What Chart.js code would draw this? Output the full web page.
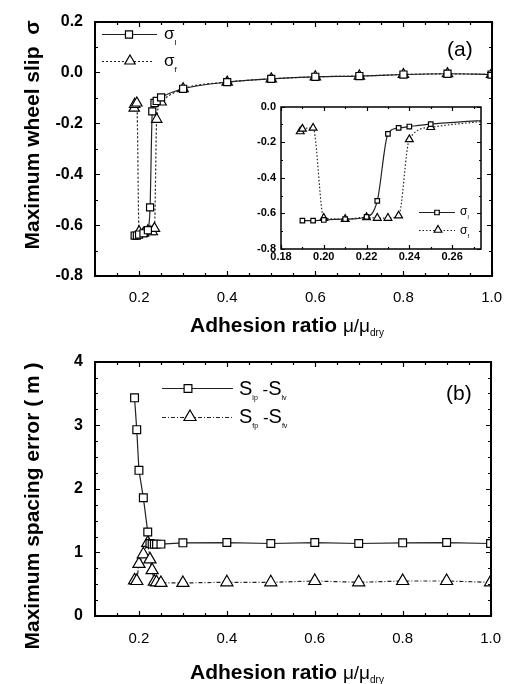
<!DOCTYPE html>
<html><head><meta charset="utf-8">
<script src="https://cdn.jsdelivr.net/npm/chart.js@4.4.1/dist/chart.umd.min.js"></script>
<style>
html,body{margin:0;padding:0;background:#fff;overflow:hidden;}
#wrap{position:relative;width:515px;height:684px;overflow:hidden;background:#fff;}
canvas{position:absolute;display:block;}
</style></head><body>
<div id="wrap">
<canvas id="ca" width="515" height="340" style="left:0;top:0"></canvas>
<canvas id="cb" width="515" height="344" style="left:0;top:340px"></canvas>
<canvas id="ci" width="250" height="170" style="left:240px;top:95px"></canvas>
</div>
<script>
const FONT = '"Liberation Sans", Arial, Helvetica, sans-serif';

// ---- data ----
const adhesionSlipL = [0.19, 0.195, 0.20, 0.21, 0.22, 0.225, 0.23, 0.235, 0.24, 0.25, 0.3, 0.4, 0.5, 0.6, 0.7, 0.8, 0.9, 1.0];
const slipL = [-0.641, -0.641, -0.637, -0.632, -0.62, -0.53, -0.153, -0.12, -0.112, -0.098, -0.064, -0.038, -0.025, -0.017, -0.014, -0.008, -0.005, -0.008];
const adhesionSlipF = [0.189, 0.19, 0.195, 0.20, 0.21, 0.22, 0.225, 0.23, 0.235, 0.24, 0.25, 0.3, 0.4, 0.5, 0.6, 0.7, 0.8, 0.9, 1.0];
const slipF = [-0.14, -0.125, -0.12, -0.626, -0.632, -0.622, -0.626, -0.626, -0.613, -0.184, -0.116, -0.064, -0.038, -0.025, -0.017, -0.014, -0.008, -0.005, -0.008];

const adhesionSpL = [0.19, 0.195, 0.20, 0.21, 0.22, 0.225, 0.23, 0.235, 0.24, 0.25, 0.3, 0.4, 0.5, 0.6, 0.7, 0.8, 0.9, 1.0];
const spacingL = [3.43, 2.93, 2.29, 1.86, 1.32, 1.14, 1.13, 1.13, 1.13, 1.13, 1.15, 1.155, 1.14, 1.155, 1.14, 1.15, 1.155, 1.14];
const adhesionSpF = [0.19, 0.195, 0.20, 0.21, 0.22, 0.225, 0.23, 0.235, 0.24, 0.25, 0.3, 0.4, 0.5, 0.6, 0.7, 0.8, 0.9, 1.0];
const spacingF = [0.56, 0.55, 0.82, 0.97, 1.15, 0.89, 0.72, 0.54, 0.53, 0.52, 0.52, 0.53, 0.53, 0.55, 0.53, 0.55, 0.55, 0.53];

// ---- tick labels ----
const xTicksMain = [0.2, 0.4, 0.6, 0.8, 1.0];
const yTicksSlip = [-0.8, -0.6, -0.4, -0.2, 0.0, 0.2];
const yTicksSpacing = [0, 1, 2, 3, 4];
const xTicksInset = [0.18, 0.20, 0.22, 0.24, 0.26];
const yTicksInset = [-0.8, -0.6, -0.4, -0.2, 0.0];

const pts = (xs, ys) => xs.map((x, i) => ({x: x, y: ys[i]}));
const fixedTicks = arr => scale => { scale.ticks = arr.map(v => ({value: v})); };
const fmt = d => v => { const n = Math.abs(v) < 1e-9 ? 0 : v; return n.toFixed(d); };

function drawMarker(ctx, style, x, y, r) {
  ctx.beginPath();
  if (style === 'rect') {
    const s = r * Math.SQRT1_2;
    ctx.rect(x - s, y - s, 2 * s, 2 * s);
  } else {
    ctx.moveTo(x, y - r);
    ctx.lineTo(x + 0.866 * r, y + 0.5 * r);
    ctx.lineTo(x - 0.866 * r, y + 0.5 * r);
    ctx.closePath();
  }
  ctx.fillStyle = '#fff'; ctx.fill();
  ctx.strokeStyle = '#000'; ctx.lineWidth = 1.2; ctx.setLineDash([]); ctx.stroke();
}

function richWidth(ctx, parts) {
  let w = 0;
  parts.forEach(p => { ctx.font = p.f; w += ctx.measureText(p.t).width; });
  return w;
}
function drawRich(ctx, x, y, parts, align) {
  let cx = x;
  if (align === 'center') cx = x - richWidth(ctx, parts) / 2;
  ctx.textAlign = 'left'; ctx.textBaseline = 'alphabetic'; ctx.fillStyle = '#000';
  parts.forEach(p => { ctx.font = p.f; ctx.fillText(p.t, cx, y + (p.dy || 0)); cx += ctx.measureText(p.t).width; });
}

function framePlugin(cfg) {
  return {
    id: 'frame',
    afterDraw(chart) {
      const {ctx, chartArea: a, scales: {x, y}} = chart;
      const L0 = Math.round(a.left), R0 = Math.round(a.right), T0 = Math.round(a.top), B0 = Math.round(a.bottom);
      ctx.save();
      ctx.strokeStyle = '#000'; ctx.lineWidth = 1.2; ctx.setLineDash([]);
      ctx.beginPath();
      const isMajor = (v, step) => { const r = v / step; return Math.abs(r - Math.round(r)) < 1e-6; };
      for (let i = 0; i < 200; i++) {
        const v = cfg.xStart + i * cfg.xMinor;
        if (v > x.max + 1e-9) break;
        if (v < x.min - 1e-9) continue;
        const px = Math.round(x.getPixelForValue(v)) + 0.5;
        const L = isMajor(v, cfg.xMajor) ? cfg.major : cfg.minor;
        ctx.moveTo(px, B0); ctx.lineTo(px, B0 - L);
        ctx.moveTo(px, T0); ctx.lineTo(px, T0 + L);
      }
      for (let i = 0; i < 200; i++) {
        const v = cfg.yStart + i * cfg.yMinor;
        if (v > y.max + 1e-9) break;
        if (v < y.min - 1e-9) continue;
        const py = Math.round(y.getPixelForValue(v)) + 0.5;
        const L = isMajor(v, cfg.yMajor) ? cfg.major : cfg.minor;
        ctx.moveTo(L0, py); ctx.lineTo(L0 + L, py);
        ctx.moveTo(R0, py); ctx.lineTo(R0 - L, py);
      }
      ctx.stroke();
      ctx.lineWidth = cfg.frameWidth || 2;
      ctx.lineCap = 'square';
      ctx.beginPath();
      ctx.moveTo(L0, T0); ctx.lineTo(R0, T0);
      ctx.moveTo(R0, T0); ctx.lineTo(R0, B0);
      ctx.moveTo(L0, B0); ctx.lineTo(R0, B0);
      ctx.moveTo(L0, B0); ctx.lineTo(L0, T0);
      ctx.stroke();
      ctx.lineCap = 'butt';
      if (cfg.extra) cfg.extra(ctx, chart);
      ctx.restore();
    }
  };
}

const lineL = {borderColor: '#222', borderWidth: 1.2, pointStyle: 'rect', pointBackgroundColor: '#fff', pointBorderColor: '#000', pointBorderWidth: 1.2, fill: false};
const lineF = {borderColor: '#222', borderWidth: 1.2, pointStyle: 'triangle', pointBackgroundColor: '#fff', pointBorderColor: '#000', pointBorderWidth: 1.2, fill: false};

function baseOptions(o) {
  return {
    responsive: false, animation: false, devicePixelRatio: 1,
    events: [],
    layout: {padding: o.padding},
    plugins: {legend: {display: false}, tooltip: {enabled: false}, title: {display: false}},
    scales: {
      x: {
        type: 'linear', min: o.xMin, max: o.xMax,
        grid: {display: false, drawTicks: false}, border: {display: false},
        afterBuildTicks: fixedTicks(o.xTicks),
        afterFit: s => { s.height = o.xH; },
        ticks: {callback: fmt(o.xDec), font: o.xFont, color: '#000', padding: o.xPad, maxRotation: 0, autoSkip: false}
      },
      y: {
        type: 'linear', min: o.yMin, max: o.yMax,
        grid: {display: false, drawTicks: false}, border: {display: false},
        afterBuildTicks: fixedTicks(o.yTicks),
        afterFit: s => { s.width = o.yW; },
        ticks: {callback: fmt(o.yDec), font: o.yFont, color: '#000', padding: o.yPad, autoSkip: false}
      }
    }
  };
}

function yTitle(ctx, cx, cy, parts) {
  ctx.save();
  ctx.translate(cx, cy);
  ctx.rotate(-Math.PI / 2);
  drawRich(ctx, 0, 0, parts, 'center');
  ctx.restore();
}

const xTitleParts = [
  {t: 'Adhesion ratio ', f: 'bold 21px ' + FONT},
  {t: 'μ/μ', f: '19px ' + FONT},
  {t: 'dry', f: '10px ' + FONT, dy: 4}
];

// ---- Chart (a) ----
new Chart(document.getElementById('ca'), {
  type: 'line',
  data: {datasets: [
    Object.assign({label: 'σl', data: pts(adhesionSlipL, slipL), pointRadius: 5, cubicInterpolationMode: 'monotone'}, lineL),
    Object.assign({label: 'σf', data: pts(adhesionSlipF, slipF), pointRadius: 6, borderDash: [2, 2], cubicInterpolationMode: 'monotone'}, lineF)
  ]},
  options: baseOptions({
    padding: {left: 0, right: 23, top: 18, bottom: 0},
    xMin: 0.1, xMax: 1.0, xTicks: xTicksMain, xDec: 1, xH: 64, xPad: 13, xFont: {family: FONT, size: 15},
    yMin: -0.8, yMax: 0.2, yTicks: yTicksSlip, yDec: 1, yW: 95, yPad: 12, yFont: {family: FONT, size: 16, weight: 'bold'}
  }),
  plugins: [framePlugin({
    xStart: 0, xMinor: 0.05, xMajor: 0.2, yStart: -0.8, yMinor: 0.1, yMajor: 0.2, major: 5, minor: 3,
    extra: (ctx) => {
      ctx.strokeStyle = '#222'; ctx.lineWidth = 1.2;
      ctx.setLineDash([]); ctx.beginPath(); ctx.moveTo(102, 34.5); ctx.lineTo(157, 34.5); ctx.stroke();
      drawMarker(ctx, 'rect', 129, 34.5, 5);
      ctx.setLineDash([2, 2]); ctx.strokeStyle = '#222'; ctx.lineWidth = 1.2; ctx.beginPath(); ctx.moveTo(102, 61.5); ctx.lineTo(152, 61.5); ctx.stroke();
      drawMarker(ctx, 'triangle', 130, 61, 6);
      ctx.setLineDash([]);
      drawRich(ctx, 164, 39, [{t: 'σ', f: '17px ' + FONT}, {t: 'l', f: '8px ' + FONT, dy: 6}]);
      drawRich(ctx, 164, 66, [{t: 'σ', f: '17px ' + FONT}, {t: 'f', f: '8px ' + FONT, dy: 6}]);
      ctx.font = '21px ' + FONT; ctx.fillStyle = '#000'; ctx.textAlign = 'left'; ctx.textBaseline = 'alphabetic';
      ctx.fillText('(a)', 447, 56);
      drawRich(ctx, 287, 332, xTitleParts, 'center');
      yTitle(ctx, 39, 135, [{t: 'Maximum wheel slip  ', f: 'bold 21px ' + FONT}, {t: 'σ', f: 'bold 21px ' + FONT}]);
    }
  })]
});

// ---- Inset of (a) ----
new Chart(document.getElementById('ci'), {
  type: 'line',
  data: {datasets: [
    Object.assign({label: 'σl', data: pts(adhesionSlipL, slipL), pointRadius: 3.2, cubicInterpolationMode: 'monotone'}, lineL),
    Object.assign({label: 'σf', data: pts(adhesionSlipF, slipF), pointRadius: 4.5, borderDash: [1.5, 2], cubicInterpolationMode: 'monotone'}, lineF)
  ]},
  options: baseOptions({
    padding: {left: 0, right: 9, top: 9, bottom: 0},
    xMin: 0.18, xMax: 0.2735, xTicks: xTicksInset, xDec: 2, xH: 16, xPad: 1, xFont: {family: FONT, size: 11, weight: 'bold'},
    yMin: -0.8, yMax: 0.0, yTicks: yTicksInset, yDec: 1, yW: 41, yPad: 5, yFont: {family: FONT, size: 11, weight: 'bold'}
  }),
  plugins: [framePlugin({
    xStart: 0.18, xMinor: 0.01, xMajor: 0.02, yStart: -0.8, yMinor: 0.1, yMajor: 0.2, major: 4, minor: 2, frameWidth: 1.5,
    extra: (ctx) => {
      ctx.strokeStyle = '#222'; ctx.lineWidth = 1.2;
      ctx.setLineDash([]); ctx.beginPath(); ctx.moveTo(179, 117.5); ctx.lineTo(215, 117.5); ctx.stroke();
      drawMarker(ctx, 'rect', 197, 117.5, 3.2);
      ctx.setLineDash([1.5, 2]); ctx.strokeStyle = '#222'; ctx.lineWidth = 1.2; ctx.beginPath(); ctx.moveTo(179, 135.5); ctx.lineTo(215, 135.5); ctx.stroke();
      drawMarker(ctx, 'triangle', 198, 135, 4.5);
      ctx.setLineDash([]);
      drawRich(ctx, 220, 120, [{t: 'σ', f: '12px ' + FONT}, {t: 'l', f: '6px ' + FONT, dy: 4}]);
      drawRich(ctx, 220, 139, [{t: 'σ', f: '12px ' + FONT}, {t: 'f', f: '6px ' + FONT, dy: 4}]);
    }
  })]
});

// ---- Chart (b) ----
new Chart(document.getElementById('cb'), {
  type: 'line',
  data: {datasets: [
    Object.assign({label: 'Slp-Slv', data: pts(adhesionSpL, spacingL), pointRadius: 5.5, tension: 0}, lineL),
    Object.assign({label: 'Sfp-Sfv', data: pts(adhesionSpF, spacingF), pointRadius: 7, borderDash: [4, 2, 1, 2], tension: 0}, lineF)
  ]},
  options: baseOptions({
    padding: {left: 0, right: 23, top: 21, bottom: 0},
    xMin: 0.1, xMax: 1.0, xTicks: xTicksMain, xDec: 1, xH: 68, xPad: 14, xFont: {family: FONT, size: 15},
    yMin: 0, yMax: 4, yTicks: yTicksSpacing, yDec: 0, yW: 95, yPad: 12, yFont: {family: FONT, size: 16, weight: 'bold'}
  }),
  plugins: [framePlugin({
    xStart: 0, xMinor: 0.05, xMajor: 0.2, yStart: 0, yMinor: 0.25, yMajor: 1, major: 5, minor: 3,
    extra: (ctx) => {
      ctx.strokeStyle = '#222'; ctx.lineWidth = 1.2;
      ctx.setLineDash([]); ctx.beginPath(); ctx.moveTo(162, 48.5); ctx.lineTo(233, 48.5); ctx.stroke();
      drawMarker(ctx, 'rect', 188, 48.5, 5.5);
      ctx.setLineDash([4, 2, 1, 2]); ctx.strokeStyle = '#222'; ctx.lineWidth = 1.2; ctx.beginPath(); ctx.moveTo(162, 77.5); ctx.lineTo(233, 77.5); ctx.stroke();
      drawMarker(ctx, 'triangle', 190, 77, 7);
      ctx.setLineDash([]);
      drawRich(ctx, 239, 55, [{t: 'S', f: '20px ' + FONT}, {t: 'lp', f: '7px ' + FONT, dy: 5}, {t: ' -', f: '17px ' + FONT}, {t: 'S', f: '20px ' + FONT}, {t: 'lv', f: '7px ' + FONT, dy: 5}]);
      drawRich(ctx, 239, 83, [{t: 'S', f: '20px ' + FONT}, {t: 'fp', f: '7px ' + FONT, dy: 5}, {t: ' -', f: '17px ' + FONT}, {t: 'S', f: '20px ' + FONT}, {t: 'fv', f: '7px ' + FONT, dy: 5}]);
      ctx.font = '21px ' + FONT; ctx.fillStyle = '#000'; ctx.textAlign = 'left'; ctx.textBaseline = 'alphabetic';
      ctx.fillText('(b)', 446, 60);
      drawRich(ctx, 287, 339, xTitleParts, 'center');
      yTitle(ctx, 39, 166, [{t: 'Maximum spacing error ( m )', f: 'bold 21px ' + FONT}]);
    }
  })]
});
</script>
</body></html>
